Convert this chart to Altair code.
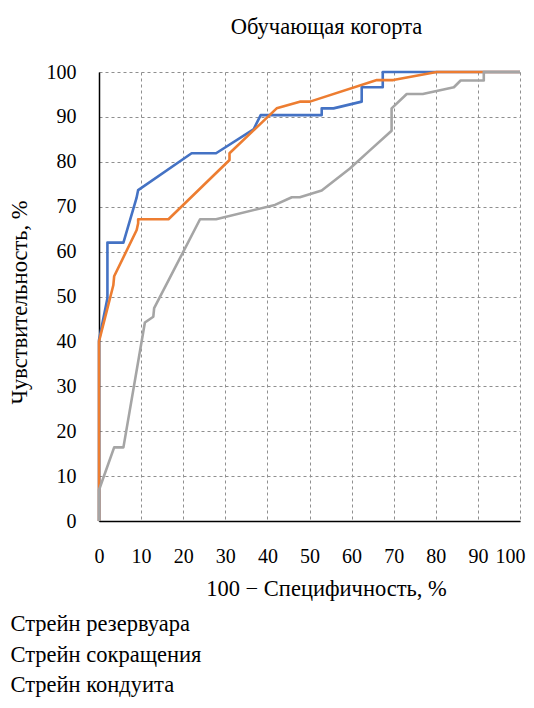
import altair as alt
import pandas as pd

series_names = ["Стрейн резервуара", "Стрейн сокращения", "Стрейн кондуита"]
colors = ["#4472C4", "#ED7D31", "#A5A5A5"]

blue_x = [0, 0, 2, 2, 5.8, 8.9, 9.3, 22, 27.8, 36.7, 38.4, 52.9, 52.9, 55.7, 62.4, 62.4, 67.4, 67.4, 100]
blue_y = [0, 40.3, 49.6, 62, 62, 71.9, 73.7, 81.9, 81.9, 87.2, 90.4, 90.4, 91.9, 91.9, 93.4, 96.6, 96.6, 100, 100]

orange_x = [0, 0, 3.4, 3.6, 8.95, 9.3, 9.3, 16.5, 31, 31, 42.2, 47.7, 50.1, 66, 69.9, 80.2, 100]
orange_y = [0, 40, 52.5, 54.5, 64.8, 66.3, 67.2, 67.2, 80.4, 81.9, 91.9, 93.4, 93.4, 98.2, 98.2, 100, 100]

gray_x = [0, 0, 3.6, 5.8, 10.9, 12.9, 13.1, 24, 27.8, 41.8, 45.8, 47.7, 52.9, 59.6, 64.4, 69.5, 69.5, 73.1, 76.9, 84.3, 85.9, 91.4, 91.4, 100]
gray_y = [0, 6.9, 16.4, 16.4, 44.2, 45.5, 47.4, 67.2, 67.2, 70.4, 72.1, 72.1, 73.6, 78.5, 82.6, 86.9, 91.9, 95.1, 95.1, 96.6, 98.1, 98.1, 100, 100]

rows = []
for name, xs, ys in zip(series_names, [blue_x, orange_x, gray_x], [blue_y, orange_y, gray_y]):
    for i, (x, y) in enumerate(zip(xs, ys)):
        rows.append({"series": name, "x": x, "y": y, "order": i})
df = pd.DataFrame(rows)

FONT = "Liberation Serif, DejaVu Serif"
BIG = 22.5

chart = alt.Chart(df).mark_line(strokeWidth=2.6, strokeJoin="round").encode(
    x=alt.X("x:Q", scale=alt.Scale(domain=[0, 100], nice=False),
            axis=alt.Axis(values=list(range(0, 101, 10)), title="100 − Специфичность, %",
                          titleX=227, titleY=74, titleBaseline="alphabetic",
                          labelPadding=25, labelFlush=False, labelOverlap=False,
                          labelAlign={"condition": {"test": "datum.value == 100", "value": "right"},
                                      "value": "center"},
                          labelOffset={"condition": {"test": "datum.value == 100", "value": 5},
                                       "value": 0})),
    y=alt.Y("y:Q", scale=alt.Scale(domain=[0, 100], nice=False),
            axis=alt.Axis(values=list(range(0, 101, 10)), title="Чувствительность, %",
                          titleX=-73, titleY=230, titleBaseline="alphabetic",
                          labelPadding=23, labelFlush=False, labelOverlap=False)),
    color=alt.Color("series:N", scale=alt.Scale(domain=series_names, range=colors),
                    legend=alt.Legend(title=None, orient="none", legendX=-111, legendY=541,
                                      symbolSize=0, symbolStrokeWidth=0, symbolOpacity=0,
                                      labelOffset=0, rowPadding=7.5, labelFontSize=BIG,
                                      labelLimit=0,
                                      labelFont=FONT, labelColor="#000000")),
    order="order:Q",
).properties(
    width=421, height=449,
    title=alt.TitleParams("Обучающая когорта", font=FONT, fontSize=BIG, fontWeight="normal",
                          color="#000000", baseline="alphabetic", offset=6, dx=17,
                          anchor="middle"),
    autosize=alt.AutoSizeParams(type="none"),
    padding={"left": 91, "top": 64, "right": 6, "bottom": 179},
).configure_axis(
    grid=True, gridDash=[3, 3], gridColor="#8f8f8f", gridWidth=1,
    domainColor="#000000", domainWidth=1.5, ticks=False,
    labelFont=FONT, labelFontSize=20, labelColor="#000000",
    titleFont=FONT, titleFontSize=BIG, titleFontWeight="normal", titleColor="#000000",
).configure_view(stroke=None)

chart.save("out.html", embed_options={"renderer": "svg", "actions": False})
